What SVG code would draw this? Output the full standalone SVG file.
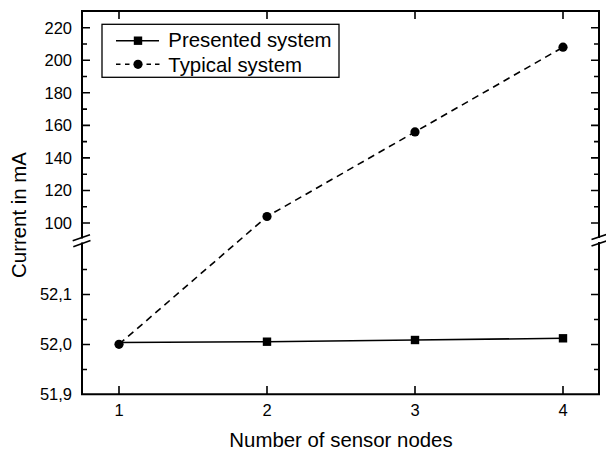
<svg xmlns="http://www.w3.org/2000/svg" width="606" height="450" viewBox="0 0 606 450">
<style>
  text { font-family: "Liberation Sans", Arial, sans-serif; fill: #000; }
  .tick { font-size: 16.5px; }
  .title { font-size: 20.4px; }
  .axis { stroke: #000; stroke-width: 2; fill: none; stroke-linecap: square; }
  .tk { stroke: #000; stroke-width: 1.6; fill: none; }
  .solid { stroke: #000; stroke-width: 1.6; fill: none; }
  .dash { stroke: #000; stroke-width: 1.6; fill: none; stroke-dasharray: 7 5; }
  .brk { stroke: #000; stroke-width: 1.6; fill: none; }
</style>
<defs>
  <rect id="sq" x="-4.2" y="-4.2" width="8.4" height="8.4" fill="#000"/>
  <circle id="ci" r="4.6" fill="#000"/>
</defs>
<rect width="606" height="450" fill="#fff"/>

<g id="axes">
  <path class="axis" d="M82,237.5 V11 H599 V237"/>
  <path class="axis" d="M82,243.5 V394.3 H599 V243"/>
  <path class="brk" d="M72.7,240.7 L90,234.8 M73.3,246.7 L90.5,240.6"/>
  <path class="brk" d="M591.5,239.5 L608,234 M591.5,246 L608,240.5"/>
</g>

<g id="ticks">
  <path class="tk" d="M119,394 v-8 M267,394 v-8 M415,394 v-8 M563,394 v-8"/>
  <path class="tk" d="M119,11 v8 M267,11 v8 M415,11 v8 M563,11 v8"/>
  <path class="tk" d="M82,27.7 h8 M82,60.2 h8 M82,92.8 h8 M82,125.4 h8 M82,157.9 h8 M82,190.5 h8 M82,223 h8 M82,294.5 h8 M82,344.5 h8"/>
  <path class="tk" d="M82,44 h5 M82,76.5 h5 M82,109.1 h5 M82,141.6 h5 M82,174.2 h5 M82,206.7 h5 M82,269.5 h5 M82,319.5 h5 M82,369.5 h5"/>
  <path class="tk" d="M599,27.7 h-8 M599,60.2 h-8 M599,92.8 h-8 M599,125.4 h-8 M599,157.9 h-8 M599,190.5 h-8 M599,223 h-8 M599,294.5 h-8 M599,344.5 h-8"/>
  <path class="tk" d="M599,44 h-5 M599,76.5 h-5 M599,109.1 h-5 M599,141.6 h-5 M599,174.2 h-5 M599,206.7 h-5 M599,269.5 h-5 M599,319.5 h-5 M599,369.5 h-5"/>
</g>

<g id="tick-labels" class="tick">
  <g text-anchor="middle">
    <text x="119" y="415.7">1</text>
    <text x="267" y="415.7">2</text>
    <text x="415" y="415.7">3</text>
    <text x="563" y="415.7">4</text>
  </g>
  <g text-anchor="end">
    <text x="72" y="33.5">220</text>
    <text x="72" y="66">200</text>
    <text x="72" y="98.6">180</text>
    <text x="72" y="131.2">160</text>
    <text x="72" y="163.7">140</text>
    <text x="72" y="196.3">120</text>
    <text x="72" y="228.8">100</text>
    <text x="72" y="300.3">52,1</text>
    <text x="72" y="350.3">52,0</text>
    <text x="72" y="400.1">51,9</text>
  </g>
</g>

<g id="axis-titles" class="title">
  <text x="341" y="446.5" text-anchor="middle">Number of sensor nodes</text>
  <text transform="translate(26,215) rotate(-90)" text-anchor="middle">Current in mA</text>
</g>

<g id="connectors">
  <polyline id="typical-line" class="dash" points="119,344.3 267,216.5 415,131.9 563,47.2"/>
  <polyline id="presented-line" class="solid" points="119,342.5 267,341.7 415,340 563,338.3"/>
</g>

<g id="typical-markers">
  <use href="#ci" x="119" y="344.3"/>
  <use href="#ci" x="267" y="216.5"/>
  <use href="#ci" x="415" y="131.9"/>
  <use href="#ci" x="563" y="47.2"/>
</g>
<g id="presented-markers">
  <use href="#sq" x="267" y="341.7"/>
  <use href="#sq" x="415" y="340"/>
  <use href="#sq" x="563" y="338.3"/>
</g>

<g id="legend">
  <rect x="102" y="24.3" width="237" height="53" fill="#fff" stroke="#000" stroke-width="1.3"/>
  <path class="solid" d="M116,40.7 H159"/>
  <use href="#sq" x="138" y="40.7"/>
  <text class="title" x="168.3" y="47.3">Presented system</text>
  <path class="solid" d="M116,64.3 h4.5 M125,64.3 h4.5 M146.5,64.3 h4.5 M155,64.3 h4.5"/>
  <use href="#ci" x="138" y="64.3"/>
  <text class="title" x="168.3" y="71.5">Typical system</text>
</g>
</svg>
